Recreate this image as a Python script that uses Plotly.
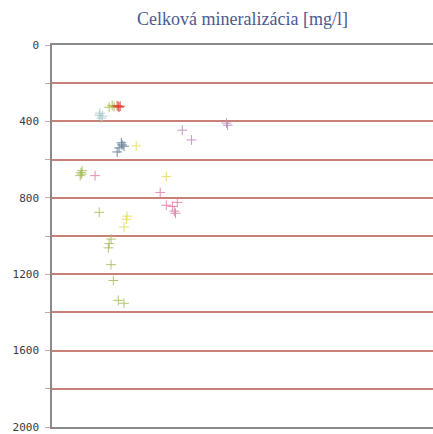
import plotly.graph_objects as go

title_text = "Celková mineralizácia [mg/l]"

# series values (x arbitrary units 0-100, y in value units)
red_x = [17.1, 17.4, 17.6, 17.9]
red_y = [318, 322, 326, 320]
olive_x = [15.0, 15.8, 16.3]
olive_y = [326, 316, 322]
teal_x = [12.4, 12.9, 12.6, 13.2]
teal_y = [368, 383, 357, 372]
slate_x = [18.4, 17.6, 17.1, 18.2, 18.9]
slate_y = [523, 539, 560, 512, 530]
yellow_x = [22.1, 30.0, 19.7, 18.9, 19.5]
yellow_y = [528, 689, 896, 953, 912]
purple_x = [34.2, 36.6, 45.8, 46.1]
purple_y = [446, 497, 409, 420]
green_x = [7.6, 7.4, 7.9, 7.8, 12.4, 15.5, 15.0, 14.8, 15.5, 16.1, 17.4, 18.9]
green_y = [668, 684, 658, 676, 876, 1016, 1040, 1062, 1150, 1233, 1337, 1352]
pink_x = [11.3, 28.4, 30.0, 31.6, 32.9, 32.1, 32.4]
pink_y = [684, 772, 839, 845, 824, 870, 881]

y_ticks = [0, 200, 400, 600, 800, 1000, 1200, 1400, 1600, 1800, 2000]
y_labels = ["0", "", "400", "", "800", "", "1200", "", "1600", "", "2000"]

series = [
    (teal_x, teal_y, "#a9c9c9"),
    (olive_x, olive_y, "#a8b84a"),
    (red_x, red_y, "#e0442c"),
    (slate_x, slate_y, "#5a7890"),
    (yellow_x, yellow_y, "#e4dc5a"),
    (purple_x, purple_y, "#b88ab8"),
    (green_x, green_y, "#a4bc5c"),
    (pink_x, pink_y, "#e07aa0"),
]

fig = go.Figure()
for xs, ys, col in series:
    fig.add_trace(go.Scatter(
        x=xs, y=ys, mode="markers",
        marker=dict(symbol="cross-thin", size=7, opacity=0.85,
                    line=dict(color=col, width=1)),
        showlegend=False, hoverinfo="skip",
    ))

fig.update_layout(
    width=433, height=434,
    margin=dict(l=52, r=0, t=45, b=7),
    paper_bgcolor="white", plot_bgcolor="white",
    title=dict(text=title_text, x=0.5, xref="paper", y=0.958, yanchor="middle",
               font=dict(family="Liberation Serif, Times New Roman, serif", size=18, color="#4b5a94")),
)
fig.update_xaxes(range=[0, 100], showgrid=False, zeroline=False, showticklabels=False,
                 showline=True, mirror=True, linecolor="#8a8a8a", linewidth=1.5, ticks="")
fig.update_yaxes(range=[2000, 0], tickmode="array", tickvals=y_ticks, ticktext=y_labels,
                 showgrid=True, gridcolor="#c98078", gridwidth=1.5, zeroline=False,
                 showline=True, linecolor="#8a8a8a", linewidth=1.5, automargin=False,
                 ticks="outside", ticklen=5, tickcolor="#d0a8a2", tickwidth=1,
                 ticklabelstandoff=4, ticklabeloverflow="allow",
                 tickfont=dict(family="DejaVu Sans Mono, monospace", size=11, color="#3a3a3a"))

fig.write_html("out.html")
